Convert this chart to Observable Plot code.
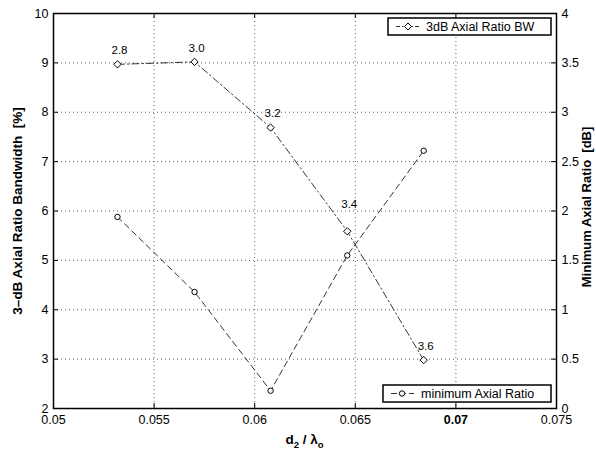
<!DOCTYPE html>
<html>
<head>
<meta charset="utf-8">
<script src="https://cdn.jsdelivr.net/npm/d3@7"></script>
<script src="https://cdn.jsdelivr.net/npm/@observablehq/plot@0.6"></script>
<style>
  html, body { margin: 0; padding: 0; background: white; }
  #chart { width: 596px; height: 453px; }
</style>
</head>
<body>
<div id="chart"></div>
<script>
// ---- data ----
const d2OverLambda = [0.05318, 0.05701, 0.06079, 0.06460, 0.06840];
const bandwidthPct = [8.97, 9.02, 7.69, 5.59, 2.98];      // left axis, %
const minAxialRatio = [1.94, 1.18, 0.18, 1.55, 2.61];     // right axis, dB
const pointLabels = ["2.8", "3.0", "3.2", "3.4", "3.6"];
const xTicks = [0.05, 0.055, 0.06, 0.065, 0.07, 0.075];
const leftTicks = [2, 3, 4, 5, 6, 7, 8, 9, 10];
const rightTicks = [0, 0.5, 1, 1.5, 2, 2.5, 3, 3.5, 4];
const legendLabels = ["3dB Axial Ratio BW", "minimum Axial Ratio"];

// right axis [0,4] mapped onto left axis [2,10]
const toLeft = v => 2 + 2 * v;
const fromLeft = y => (y - 2) / 2;

const rows = d2OverLambda.map((x, i) => ({
  x, bw: bandwidthPct[i], ar: minAxialRatio[i], label: pointLabels[i]
}));

const W = 596, H = 453;
const mL = 53, mR = 40, mT = 13, mB = 45;
const pw = W - mL - mR, ph = H - mT - mB;
const font = "'Liberation Sans', Arial, Helvetica, sans-serif";
const fmt = d3.format("");

const gridXs = xTicks.filter(t => t > 0.05 && t < 0.075);
const gridYs = leftTicks.filter(t => t > 2 && t < 10);

const chart = Plot.plot({
  width: W, height: H,
  marginLeft: mL, marginRight: mR, marginTop: mT, marginBottom: mB,
  x: {domain: [0.05, 0.075]},
  y: {domain: [2, 10]},
  style: {fontFamily: font, fontSize: "12.5px", color: "black", background: "white"},
  marks: [
    // dotted grid
    Plot.ruleX(gridXs, {x: d => d, stroke: "#666", strokeWidth: 1, strokeDasharray: "1,3"}),
    Plot.ruleY(gridYs, {y: d => d, stroke: "#666", strokeWidth: 1, strokeDasharray: "1,3"}),
    // inward ticks
    Plot.tickX(xTicks, {x: d => d, insetTop: ph - 5, stroke: "black"}),
    Plot.tickX(xTicks, {x: d => d, insetBottom: ph - 5, stroke: "black"}),
    Plot.tickY(leftTicks, {y: d => d, insetRight: pw - 5, stroke: "black"}),
    Plot.tickY(rightTicks, {y: d => toLeft(d), insetLeft: pw - 5, stroke: "black"}),
    // axes labels (tick text)
    Plot.axisX(xTicks.filter(t => t !== 0.07), {anchor: "bottom", tickSize: 0, tickPadding: 7, tickFormat: fmt, label: null, fontSize: 12.5}),
    Plot.axisX([0.07], {anchor: "bottom", tickSize: 0, tickPadding: 7, tickFormat: fmt, label: null, fontWeight: "bold", fontSize: 12.5}),
    Plot.axisY(leftTicks, {anchor: "left", tickSize: 0, tickPadding: 5, tickFormat: fmt, label: null, fontSize: 12.5}),
    Plot.axisY(rightTicks.map(toLeft), {anchor: "right", tickSize: 0, tickPadding: 5, tickFormat: d => fmt(fromLeft(d)), label: null, fontSize: 12.5}),
    // series: bandwidth (dash-dot, diamonds)
    Plot.line(rows, {x: "x", y: "bw", stroke: "black", strokeWidth: 0.8, strokeDasharray: "7,3,1.5,3"}),
    Plot.dot(rows, {x: "x", y: "bw", symbol: "diamond2", r: 3.3, stroke: "black", strokeWidth: 1, fill: "white"}),
    // series: min axial ratio (dashed, circles)
    Plot.line(rows, {x: "x", y: d => toLeft(d.ar), stroke: "black", strokeWidth: 0.8, strokeDasharray: "6,4"}),
    Plot.dot(rows, {x: "x", y: d => toLeft(d.ar), symbol: "circle", r: 2.7, stroke: "black", strokeWidth: 1, fill: "white"}),
    // point labels
    Plot.text(rows.filter(d => d.label !== "3.4"), {x: "x", y: "bw", text: "label", dy: -14, dx: 2, fontSize: 11.5, fill: "black"}),
    Plot.text(rows.filter(d => d.label === "3.4"), {x: "x", y: "bw", text: "label", dy: -27, dx: 2, fontSize: 11.5, fill: "black"}),
    Plot.frame({stroke: "black", strokeWidth: 1.5})
  ]
});

document.getElementById("chart").appendChild(chart);

// ---- axis titles & legends ----
const svg = d3.select(chart);
const g = svg.append("g").attr("font-family", font).attr("fill", "black");

g.append("text")
  .attr("transform", `translate(18,211) rotate(-90)`)
  .attr("text-anchor", "middle").attr("dominant-baseline", "middle")
  .attr("font-weight", "bold").attr("font-size", 13.5)
  .text("3\u2013dB Axial Ratio Bandwidth\u00a0\u00a0[%]");

g.append("text")
  .attr("transform", `translate(588,207) rotate(-90)`)
  .attr("text-anchor", "middle").attr("dominant-baseline", "middle")
  .attr("font-weight", "bold").attr("font-size", 13)
  .text("Minimum Axial Ratio\u00a0\u00a0[dB]");

const xl = g.append("text")
  .attr("x", mL + pw / 2).attr("y", 444)
  .attr("text-anchor", "middle").attr("font-weight", "bold").attr("font-size", 13.5);
xl.append("tspan").text("d");
xl.append("tspan").attr("font-size", 9.5).attr("dy", 4).text("2");
xl.append("tspan").attr("dy", -4).text(" / \u03bb");
xl.append("tspan").attr("font-size", 9.5).attr("dy", 4).text("o");

function legend(x, y, w, h, label, kind) {
  const lg = svg.append("g");
  lg.append("rect").attr("x", x).attr("y", y).attr("width", w).attr("height", h)
    .attr("fill", "white").attr("stroke", "black").attr("stroke-width", 1.5);
  const cy = y + h / 2;
  lg.append("line").attr("x1", x + 8).attr("x2", x + 31).attr("y1", cy).attr("y2", cy)
    .attr("stroke", "black").attr("stroke-width", 0.8)
    .attr("stroke-dasharray", kind === "diamond" ? "4,2,1.5,2" : "6,3");
  if (kind === "diamond") {
    const s = 3.5;
    lg.append("path").attr("d", `M${x + 20},${cy - s}L${x + 20 + s},${cy}L${x + 20},${cy + s}L${x + 20 - s},${cy}Z`)
      .attr("fill", "white").attr("stroke", "black");
  } else {
    lg.append("circle").attr("cx", x + 19).attr("cy", cy).attr("r", 2.7)
      .attr("fill", "white").attr("stroke", "black");
  }
  lg.append("text").attr("x", x + 38).attr("y", cy).attr("dominant-baseline", "central")
    .attr("text-anchor", "start")
    .attr("font-family", font).attr("font-size", 12.5).attr("fill", "black").text(label);
}
legend(388, 18, 163, 17, legendLabels[0], "diamond");
legend(383, 385, 168, 17, legendLabels[1], "circle");
</script>
</body>
</html>
